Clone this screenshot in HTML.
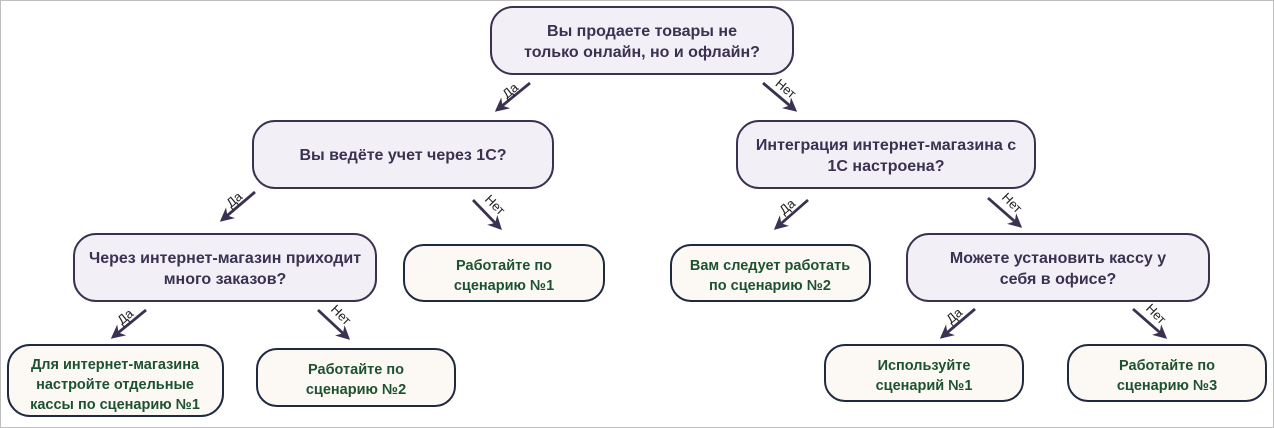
<!DOCTYPE html>
<html><head><meta charset="utf-8"><style>
html,body{margin:0;padding:0;background:#fff}
svg{display:block}
.q{fill:#f2eff7;stroke:#3b3150;stroke-width:2}
.a{fill:#fcf8f3;stroke:#1f2a40;stroke-width:2}
.qt{font-family:"Liberation Sans",sans-serif;font-weight:bold;font-size:16px;fill:#3b3150;text-anchor:middle}
.at{font-family:"Liberation Sans",sans-serif;font-weight:bold;font-size:14.5px;fill:#1d5231;text-anchor:middle}
.ar{stroke:#3b3150;stroke-width:2.8;fill:none}
.lb{font-family:"Liberation Sans",sans-serif;font-size:13px;fill:#222;text-anchor:middle}
</style></head><body>
<svg width="1274" height="428" viewBox="0 0 1274 428">
<defs><marker id="m" viewBox="0 0 10 10" refX="8" refY="5" markerWidth="5" markerHeight="5" orient="auto"><path d="M0,0 L10,5 L0,10 L3,5 Z" fill="#3b3150"/></marker></defs>
<rect x="0.5" y="0.5" width="1273" height="427" fill="#fff" stroke="#bfbfbf"/>
<rect class="q" x="491" y="7" width="302" height="67" rx="22"/>
<text class="qt" x="642" y="36">Вы продаете товары не</text>
<text class="qt" x="642" y="57">только онлайн, но и офлайн?</text>
<rect class="q" x="253" y="121" width="300" height="67" rx="22"/>
<text class="qt" x="403" y="160">Вы ведёте учет через 1С?</text>
<rect class="q" x="737" y="121" width="298" height="67" rx="22"/>
<text class="qt" x="886" y="150">Интеграция интернет-магазина с</text>
<text class="qt" x="886" y="171">1С настроена?</text>
<rect class="q" x="74" y="234" width="302" height="67" rx="22"/>
<text class="qt" x="225" y="263">Через интернет-магазин приходит</text>
<text class="qt" x="225" y="284">много заказов?</text>
<rect class="a" x="404" y="245" width="200" height="56" rx="20"/>
<text class="at" x="504" y="270">Работайте по</text>
<text class="at" x="504" y="290">сценарию №1</text>
<rect class="a" x="671" y="245" width="199" height="56" rx="20"/>
<text class="at" x="770" y="270">Вам следует работать</text>
<text class="at" x="770" y="290">по сценарию №2</text>
<rect class="q" x="907" y="234" width="302" height="67" rx="22"/>
<text class="qt" x="1058" y="263">Можете установить кассу у</text>
<text class="qt" x="1058" y="284">себя в офисе?</text>
<rect class="a" x="8" y="345" width="215" height="71" rx="22"/>
<text class="at" x="115" y="369">Для интернет-магазина</text>
<text class="at" x="115" y="389">настройте отдельные</text>
<text class="at" x="115" y="409">кассы по сценарию №1</text>
<rect class="a" x="257" y="349" width="198" height="57" rx="20"/>
<text class="at" x="356" y="374">Работайте по</text>
<text class="at" x="356" y="394">сценарию №2</text>
<rect class="a" x="825" y="345" width="198" height="56" rx="20"/>
<text class="at" x="924" y="370">Используйте</text>
<text class="at" x="924" y="390">сценарий №1</text>
<rect class="a" x="1068" y="345" width="198" height="56" rx="20"/>
<text class="at" x="1167" y="370">Работайте по</text>
<text class="at" x="1167" y="390">сценарию №3</text>

<g>
<line class="ar" x1="530" y1="83" x2="497" y2="110" marker-end="url(#m)"/>
<text class="lb" transform="translate(513,94) rotate(-40)">Да</text>
<line class="ar" x1="763" y1="83" x2="795" y2="110" marker-end="url(#m)"/>
<text class="lb" transform="translate(783,92) rotate(40)">Нет</text>

<line class="ar" x1="255" y1="192" x2="222" y2="220" marker-end="url(#m)"/>
<text class="lb" transform="translate(237,203) rotate(-40)">Да</text>
<line class="ar" x1="473" y1="200" x2="500" y2="228" marker-end="url(#m)"/>
<text class="lb" transform="translate(492,208) rotate(45)">Нет</text>

<line class="ar" x1="808" y1="200" x2="776" y2="228" marker-end="url(#m)"/>
<text class="lb" transform="translate(790,210) rotate(-40)">Да</text>
<line class="ar" x1="988" y1="198" x2="1020" y2="226" marker-end="url(#m)"/>
<text class="lb" transform="translate(1009,206) rotate(45)">Нет</text>

<line class="ar" x1="146" y1="310" x2="113" y2="337" marker-end="url(#m)"/>
<text class="lb" transform="translate(128,320) rotate(-40)">Да</text>
<line class="ar" x1="318" y1="310" x2="348" y2="338" marker-end="url(#m)"/>
<text class="lb" transform="translate(338,318) rotate(45)">Нет</text>

<line class="ar" x1="975" y1="309" x2="942" y2="337" marker-end="url(#m)"/>
<text class="lb" transform="translate(957,319) rotate(-40)">Да</text>
<line class="ar" x1="1133" y1="309" x2="1165" y2="337" marker-end="url(#m)"/>
<text class="lb" transform="translate(1153,317) rotate(45)">Нет</text>
</g>
</svg>
</body></html>
